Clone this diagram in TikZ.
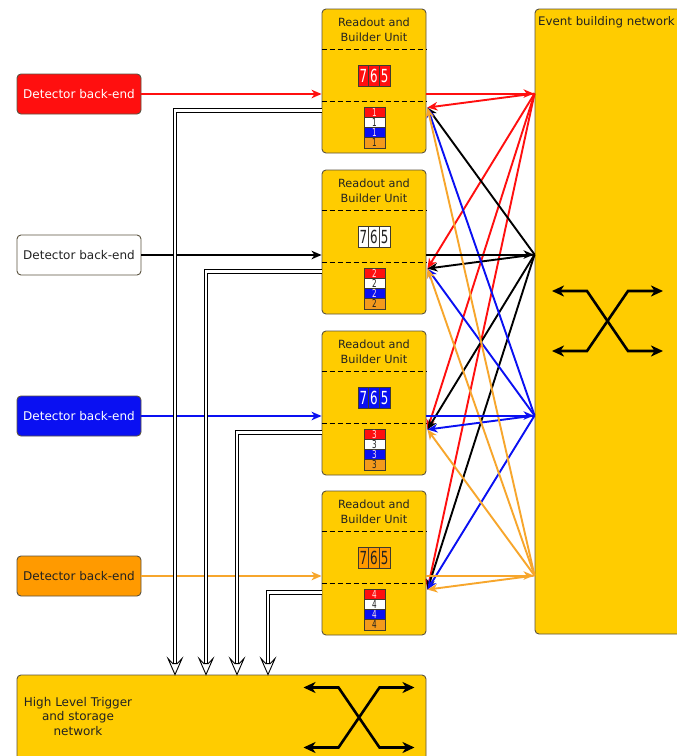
\documentclass[tikz,border=0pt]{standalone}
\usepackage{fontspec}
\setmainfont{DejaVu Sans}
\newfontfamily\tagfont[FakeStretch=0.66]{DejaVu Sans}
\usetikzlibrary{arrows.meta}

\definecolor{panel}{HTML}{FFCC00}
\definecolor{edge}{HTML}{5B5340}
\definecolor{ink}{HTML}{222222}
\definecolor{cred}{HTML}{FF0F0F}
\definecolor{cblue}{HTML}{0A10F2}
\definecolor{corange}{HTML}{FF9A00}
\definecolor{torange}{HTML}{F39A1C}
\definecolor{lorange}{HTML}{F7A62C}
\definecolor{pinkish}{HTML}{FFE0E0}

\tikzset{
  yellowbox/.style={draw=edge, fill=panel, line width=0.9pt, rounded corners=4pt, inner sep=0pt},
  rubox/.style={yellowbox, minimum width=104pt, minimum height=144pt},
  detbox/.style={draw=edge, line width=0.9pt, rounded corners=4pt, minimum width=124pt, minimum height=40pt,
    font=\fontsize{12}{14}\selectfont, inner sep=0pt},
  divider/.style={dashed, dash pattern=on 5pt off 3pt, line width=0.8pt, draw=black},
  tagcell/.style={draw=edge!70!black, line width=0.7pt, minimum width=10.67pt, minimum height=21pt,
    inner sep=0pt, font=\tagfont\fontsize{18}{18}\selectfont},
  stackcell/.style={draw=edge!70!black, line width=0.7pt, minimum width=21pt, minimum height=10.25pt,
    inner sep=0pt, font=\tagfont\fontsize{11}{11}\selectfont},
  flow/.style={line width=1.9pt, -{Stealth[length=10pt, width=8.5pt, inset=3pt]}},
  dbl/.style={draw=black, double=white, double distance=2.8pt, line width=0.9pt},
  openhead/.style={draw=black, fill=white, line width=0.9pt, line join=miter},
  switchline/.style={line width=2.6pt, draw=black, line join=miter,
    {Stealth[length=12pt, width=11pt, inset=3.5pt]}-{Stealth[length=12pt, width=11pt, inset=3.5pt]}},
  xswitch/.pic={
    \draw[switchline] (-55.5,-30) -- (-20.5,-30) -- (20.5,30) -- (55.5,30);
    \draw[switchline] (-55.5,30) -- (-20.5,30) -- (20.5,-30) -- (55.5,-30);
  }
}

\begin{document}
\begin{tikzpicture}[x=1pt, y=-1pt]
\useasboundingbox (0,0) rectangle (677,756);
\fill[white] (0,0) rectangle (677,756);

% event building network (runs off the right edge)
\node[yellowbox, minimum width=170pt, minimum height=625pt] (ebn) at (620,321.5) {};
\node[anchor=west, font=\fontsize{11.8}{14}\selectfont, text=ink, inner sep=0pt] (ebnlabel) at (538,22) {Event building network};
\pic at (607.5,321) {xswitch};

% high level trigger and storage network (runs off the bottom edge)
\node[yellowbox, minimum width=409pt, minimum height=100pt] (hlt) at (221.5,725) {};
\node[align=center, font=\fontsize{12}{14.5}\selectfont, text=ink, inner sep=0pt] (hltlabel) at (78,716.5)
  {High Level Trigger\\and storage\\network};
\pic at (359,717.5) {xswitch};

% readout and builder units with their detector back-ends
\foreach \i/\top/\c/\tc/\lc in {1/9/cred/white/cred, 2/170/white/ink/black, 3/331/cblue/white/cblue, 4/491/corange/ink/lorange}{
  \node[rubox] (ru\i) at (374,\top+72) {};
  \node[align=center, font=\fontsize{11.3}{15}\selectfont, text=ink, inner sep=0pt] (rutitle\i) at (374,\top+20.5)
    {Readout and\\Builder Unit};
  \draw[divider] ([yshift=-41pt]ru\i.north west) -- ([yshift=-41pt]ru\i.north east);
  \draw[divider] ([yshift=-93pt]ru\i.north west) -- ([yshift=-93pt]ru\i.north east);
  % event fragment tag
  \node[tagcell, fill=\c, text=\tc] (tagA\i) at (363.33,\top+67) {7};
  \node[tagcell, fill=\c, text=\tc] (tagB\i) at (374,\top+67) {6};
  \node[tagcell, fill=\c, text=\tc] (tagC\i) at (384.67,\top+67) {5};
  % stack of collected fragments
  \node[stackcell, fill=cred, text=pinkish] (stA\i) at (374.5,\top+103.1) {\i};
  \node[stackcell, fill=white, text=ink] (stB\i) at (374.5,\top+113.35) {\i};
  \node[stackcell, fill=cblue, text=pinkish] (stC\i) at (374.5,\top+123.6) {\i};
  \node[stackcell, fill=torange, text=ink] (stD\i) at (374.5,\top+133.85) {\i};
  % detector back-end
  \node[detbox, fill=\c, text=\tc] (det\i) at (79,\top+85) {Detector back-end};
  \draw[flow, draw=\lc] (det\i.east) -- (det\i.east -| ru\i.west);
  % ports on the unit and on the network
  \coordinate (out\i) at ([yshift=-85pt]ru\i.north east);
  \coordinate (in\i) at ([xshift=1pt, yshift=-99pt]ru\i.north east);
  \coordinate (net\i) at (out\i -| ebn.west);
}

% fragments coming back from the network to every unit
\foreach \j/\lc in {1/cred, 2/black, 3/cblue, 4/lorange}{
  \foreach \i in {1,...,4}{
    \draw[flow, draw=\lc] (net\j) -- (in\i);
  }
}
% fragments leaving each unit for the network
\foreach \i/\lc in {1/cred, 2/black, 3/cblue, 4/lorange}{
  \draw[flow, draw=\lc, shorten >=1pt] (out\i) -- (net\i);
}

% links from every unit to the high level trigger
\foreach \i/\x in {1/175, 2/206, 3/237, 4/268}{
  \coordinate (hin\i) at (\x,0 |- hlt.north);
  \coordinate (hstem\i) at ([yshift=11pt]hin\i);
  \draw[dbl] ([yshift=-102pt]ru\i.north west) -| (hstem\i);
  \draw[openhead] ([xshift=-7pt, yshift=16pt]hin\i) -- (hin\i) -- ([xshift=7pt, yshift=16pt]hin\i)
    -- ([xshift=2.3pt, yshift=11pt]hin\i) -- ([xshift=-2.3pt, yshift=11pt]hin\i) -- cycle;
}
\end{tikzpicture}
\end{document}
